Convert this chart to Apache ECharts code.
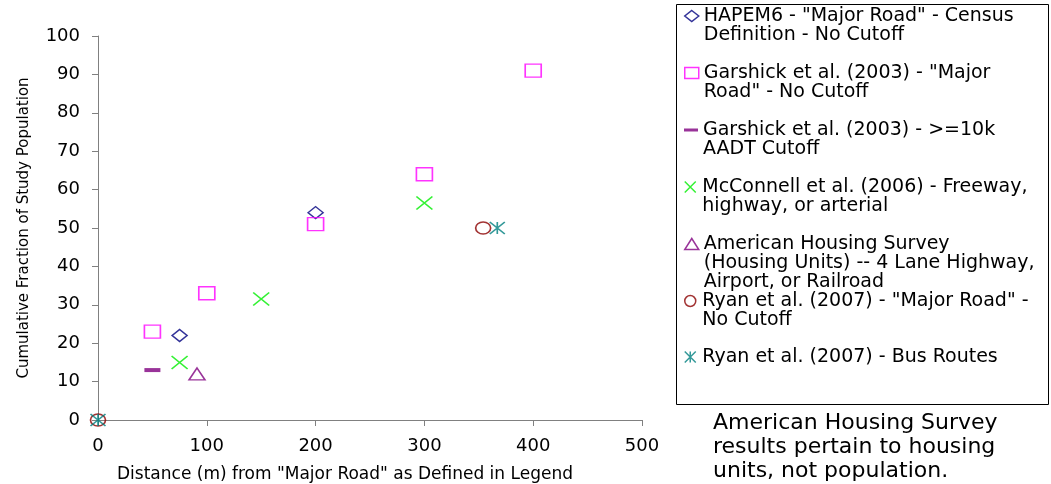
<!DOCTYPE html>
<html><head><meta charset="utf-8">
<script src="https://cdn.jsdelivr.net/npm/echarts@6/dist/echarts.min.js"></script>
<style>html,body{margin:0;padding:0;background:#fff}#c{width:1051px;height:484px}</style>
</head><body><div id="c"></div>
<script>
// ---- data ----
const seriesNames = [
  'HAPEM6 - "Major Road" - Census Definition - No Cutoff',
  'Garshick et al. (2003) - "Major Road" - No Cutoff',
  'Garshick et al. (2003) - >=10k AADT Cutoff',
  'McConnell et al. (2006) - Freeway, highway, or arterial',
  'American Housing Survey (Housing Units) -- 4 Lane Highway, Airport, or Railroad',
  'Ryan et al. (2007) - "Major Road" - No Cutoff',
  'Ryan et al. (2007) - Bus Routes'
];
const legendLines = [
  ['HAPEM6 - "Major Road" - Census', 'Definition - No Cutoff'],
  ['Garshick et al. (2003) - "Major', 'Road" - No Cutoff'],
  ['Garshick et al. (2003) - >=10k', 'AADT Cutoff'],
  ['McConnell et al. (2006) - Freeway,', 'highway, or arterial'],
  ['American Housing Survey', '(Housing Units) -- 4 Lane Highway,', 'Airport, or Railroad'],
  ['Ryan et al. (2007) - "Major Road" -', 'No Cutoff'],
  ['Ryan et al. (2007) - Bus Routes']
];
const hapem6        = [[75, 22], [200, 54]];
const garshickMajor = [[50, 23], [100, 33], [200, 51], [300, 64], [400, 91]];
const garshick10k   = [[50, 13]];
const mcconnell     = [[75, 15], [150, 31.5], [300, 56.5]];
const ahs           = [[91, 12]];
const ryanMajor     = [[0, 0], [354, 50]];
const ryanBus       = [[0, 0], [367, 50]];
const xTicks = [0, 100, 200, 300, 400, 500];
const yTicks = [0, 10, 20, 30, 40, 50, 60, 70, 80, 90, 100];
const noteLines = ['American Housing Survey', 'results pertain to housing', 'units, not population.'];
const xTitle = 'Distance (m) from "Major Road" as Defined in Legend';
const yTitle = 'Cumulative Fraction of Study Population';

// ---- styles ----
const FONT = 'DejaVu Sans';
const seriesData = [hapem6, garshickMajor, garshick10k, mcconnell, ahs, ryanMajor, ryanBus];
const colors = ['#000080', '#FF00FF', '#800080', '#00EE00', '#800080', '#8B0000', '#008080'];
const XPATH = 'path://M0,0L10,10M10,0L0,10';
const ASTPATH = 'path://M0,0L10,10M10,0L0,10M5,0L5,10';
const symbols = ['diamond', 'rect', 'rect', XPATH, 'triangle', 'circle', ASTPATH];
const symSizes = [[15, 12], [16, 13], [16, 4], [16, 13], [16, 12], [15, 12], [15, 12]];
const filled = [false, false, true, false, false, false, false];
const legendCenters = [16, 73, 130, 187, 244, 301, 357];
const LH = 19;

function styleFor(i) {
  return filled[i]
    ? { color: colors[i], borderWidth: 0 }
    : { color: 'rgba(0,0,0,0)', borderColor: colors[i], borderWidth: 1.5 };
}

const series = seriesData.map((d, i) => ({
  name: seriesNames[i],
  type: 'scatter',
  data: d,
  symbol: symbols[i],
  symbolSize: symSizes[i],
  itemStyle: styleFor(i),
  emphasis: { disabled: true },
  z: 2 + i
}));

const legends = seriesNames.map((nm, i) => {
  const n = legendLines[i].length;
  return {
    data: [{ name: nm, icon: symbols[i] }],
    left: 684,
    top: legendCenters[i] - (n - 1) * LH - LH / 2,
    orient: 'vertical',
    padding: 0,
    itemWidth: 14,
    itemHeight: filled[i] ? 3 : 11,
    selectedMode: false,
    itemStyle: styleFor(i),
    formatter: function () {
      const pre = new Array(n - 1).fill('').join('\n');
      return (n > 1 ? pre + '\n' : '') + legendLines[i].join('\n');
    },
    textStyle: { fontFamily: FONT, fontSize: 19, lineHeight: LH, color: '#000' }
  };
});

const axisCommon = {
  type: 'value',
  axisLine: { show: true, onZero: false, lineStyle: { color: '#808080', width: 1 } },
  axisTick: { show: true, length: 6, lineStyle: { color: '#808080', width: 1 } },
  splitLine: { show: false },
  nameLocation: 'middle'
};

const chart = echarts.init(document.getElementById('c'), null, { renderer: 'canvas' });
chart.setOption({
  animation: false,
  backgroundColor: '#ffffff',
  title: {
    text: noteLines.join('\n'),
    left: 713, top: 411, padding: 0,
    textStyle: { fontFamily: FONT, fontSize: 22, lineHeight: 24, fontWeight: 'normal', color: '#000' }
  },
  legend: legends,
  grid: { left: 98, right: 409, top: 36, bottom: 64, containLabel: false, outerBoundsMode: 'none' },
  xAxis: Object.assign({}, axisCommon, {
    min: xTicks[0], max: xTicks[xTicks.length - 1], interval: xTicks[1] - xTicks[0],
    name: xTitle, nameGap: 46,
    nameTextStyle: { fontFamily: FONT, fontSize: 17, color: '#000', padding: [0, 50, 0, 0] },
    axisLabel: { fontFamily: FONT, fontSize: 18, color: '#000', margin: 17 }
  }),
  yAxis: Object.assign({}, axisCommon, {
    min: yTicks[0], max: yTicks[yTicks.length - 1], interval: yTicks[1] - yTicks[0],
    name: yTitle, nameGap: 66,
    nameTextStyle: { fontFamily: FONT, fontSize: 15, color: '#000' },
    axisLabel: { fontFamily: FONT, fontSize: 18, color: '#000', margin: 18 }
  }),
  graphic: [{
    type: 'rect', z: 0, silent: true,
    shape: { x: 676.5, y: 4.5, width: 372, height: 400 },
    style: { fill: 'none', stroke: '#000', lineWidth: 1 }
  }],
  series: series
});
</script></body></html>
